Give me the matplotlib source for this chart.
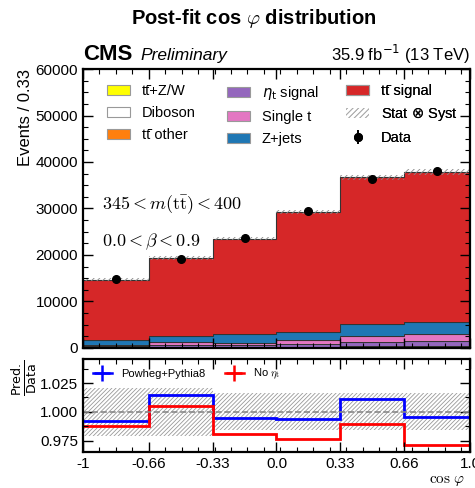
import matplotlib
matplotlib.use('Agg')
import matplotlib.pyplot as plt
import numpy as np
from matplotlib.patches import Patch
from matplotlib.lines import Line2D
from matplotlib.ticker import AutoMinorLocator

plt.rcParams['font.family'] = ['Liberation Sans', 'DejaVu Sans']
plt.rcParams['mathtext.fontset'] = 'cm'
plt.rcParams['hatch.linewidth'] = 0.6

# bin edges in cos(phi)
edges = np.array([-1.0, -0.66, -0.33, 0.0, 0.33, 0.66, 1.0])
tick_labels = ['-1', '-0.66', '-0.33', '0.0', '0.33', '0.66', '1.0']

# post-fit stack, bottom to top
ttzw = [20, 25, 30, 35, 45, 50]
diboson = [20, 25, 30, 30, 40, 45]
tt_other = [100, 150, 200, 250, 350, 400]
eta_signal = [250, 430, 400, 650, 900, 1000]
single_t = [300, 570, 500, 850, 1300, 1450]
zjets = [1100, 1300, 1800, 1550, 2450, 2600]
tt_signal = [12910, 16900, 20540, 25835, 31615, 32255]

data = [14800, 19120, 23630, 29390, 36300, 37990]

# ratio panel
ratio_powheg = [0.9922, 1.0145, 0.9945, 0.9936, 1.011, 0.9951]
ratio_no_eta = [0.9873, 1.005, 0.9808, 0.976, 0.9893, 0.9707]
rel_unc = [0.021, 0.021, 0.016, 0.016, 0.016, 0.016]

stack = [
    ('tt\u0304+Z/W', ttzw, '#ffff00'),
    ('Diboson', diboson, '#ffffff'),
    ('tt\u0304 other', tt_other, '#ff7f0e'),
    (r'$\eta_{\rm t}$ signal', eta_signal, '#9467bd'),
    ('Single t', single_t, '#e377c2'),
    ('Z+jets', zjets, '#1f77b4'),
    ('tt\u0304 signal', tt_signal, '#d62728'),
]

fig = plt.figure(figsize=(4.75, 4.88), dpi=100)
ax = fig.add_axes([0.1747, 0.2869, 0.8148, 0.5717])
rax = fig.add_axes([0.1747, 0.0738, 0.8148, 0.1905])

# stacked histogram
bottom = np.zeros(len(data))
handles = {}
for name, vals, col in stack:
    vals = np.array(vals, dtype=float)
    ax.stairs(bottom + vals, edges, baseline=bottom, fill=True, color=col, lw=0)
    ax.stairs(bottom + vals, edges, baseline=None, color='#333333', lw=0.8)
    handles[name] = Patch(facecolor=col, edgecolor='#999999', lw=0.8)
    bottom = bottom + vals
total = bottom

unc = np.array(rel_unc)
ax.stairs(total * (1 + unc), edges, baseline=total * (1 - unc), fill=True,
          facecolor='none', edgecolor='#888888', hatch='//////', lw=0)
handles['Stat $\\otimes$ Syst'] = Patch(facecolor='none', edgecolor='#aaaaaa', hatch='//////', lw=0)

centers = 0.5 * (edges[1:] + edges[:-1])
eb = ax.errorbar(centers, data, yerr=np.sqrt(data), fmt='o', color='black', ms=5.5, lw=1.2)
handles['Data'] = eb

# legend, one column at a time
columns = [
    (0.062, ['tt\u0304+Z/W', 'Diboson', 'tt\u0304 other']),
    (0.372, [r'$\eta_{\rm t}$ signal', 'Single t', 'Z+jets']),
    (0.680, ['tt\u0304 signal', 'Stat $\\otimes$ Syst', 'Data']),
]
for xpos, names in columns:
    leg = ax.legend([handles[k] for k in names], names, loc='upper left',
                    bbox_to_anchor=(xpos, 0.946), frameon=False, fontsize=10.5,
                    handlelength=1.6, handleheight=0.75, handletextpad=0.8,
                    labelspacing=0.55, borderpad=0, borderaxespad=0)
    for t in leg.get_texts():
        t.set_math_fontfamily('dejavusans')
    ax.add_artist(leg)

ax.set_xlim(-1, 1)
ax.set_ylim(0, 60000)
ax.set_yticks(np.arange(0, 60001, 10000))
ax.set_xticks(edges)
ax.xaxis.set_minor_locator(AutoMinorLocator(4))
ax.yaxis.set_minor_locator(AutoMinorLocator(4))
ax.tick_params(labelbottom=False)
ax.set_ylabel('Events / 0.33', fontsize=12, loc='top')
ax.yaxis.set_label_coords(-0.129, 1.0)

ax.text(0.05, 0.498, r'$345 < m(\mathrm{t\bar{t}}) < 400$', transform=ax.transAxes, fontsize=13)
ax.text(0.05, 0.363, r'$0.0 < \beta < 0.9$', transform=ax.transAxes, fontsize=13)

# ratio panel
rax.stairs(1 + unc, edges, baseline=1 - unc, fill=True, facecolor='none',
           edgecolor='#999999', hatch='////////', lw=0)
rax.axhline(1.0, color='#888888', ls='--', lw=1.2)
rax.stairs(ratio_powheg, edges, baseline=None, color='#0000ff', lw=2)
rax.stairs(ratio_no_eta, edges, baseline=None, color='#ff0000', lw=2)
rh = [Line2D([], [], color='#0000ff', marker='+', ms=12, mew=1.8, lw=1.8),
      Line2D([], [], color='#ff0000', marker='+', ms=12, mew=1.8, lw=1.8)]
rleg = rax.legend(rh, ['Powheg+Pythia8', r'No $\eta_{\rm t}$'], ncol=2, loc='upper left',
                  bbox_to_anchor=(0.0, 1.02), frameon=False, fontsize=8,
                  handlelength=1.7, columnspacing=1.8)
rax.set_xlim(-1, 1)
rax.set_ylim(0.965, 1.046)
rax.set_yticks([0.975, 1.0, 1.025])
rax.set_yticklabels(['0.975', '1.000', '1.025'])
rax.yaxis.set_minor_locator(AutoMinorLocator(2))
rax.set_xticks(edges)
rax.set_xticklabels(tick_labels)
rax.xaxis.set_minor_locator(AutoMinorLocator(4))
rax.set_ylabel(r'$\frac{\mathrm{Pred.}}{\mathrm{Data}}$', fontsize=13, loc='top',
               math_fontfamily='dejavusans')
rax.yaxis.set_label_coords(-0.113, 1.0)

for a in (ax, rax):
    for s in a.spines.values():
        s.set_linewidth(1.6)
    a.tick_params(which='both', direction='in', top=True, right=True, labelsize=11)
    a.tick_params(which='major', length=7, width=1)
    a.tick_params(which='minor', length=3.5, width=0.8)

fig.text(0.979, 0.014, r'$\cos\,\varphi$', fontsize=11, ha='right', va='center')
fig.text(0.175, 0.877, 'CMS', fontsize=16, fontweight='bold')
fig.text(0.295, 0.877, 'Preliminary', fontsize=12.5, style='italic')
fig.text(0.9895, 0.874, r'35.9 fb$^{-1}$ (13 TeV)', fontsize=12, ha='right',
         math_fontfamily='dejavusans')
fig.text(0.533, 0.963, r'Post-fit cos $\varphi$ distribution', fontsize=14.5,
         fontweight='bold', ha='center', va='center')

fig.savefig('out.png', dpi=100)
